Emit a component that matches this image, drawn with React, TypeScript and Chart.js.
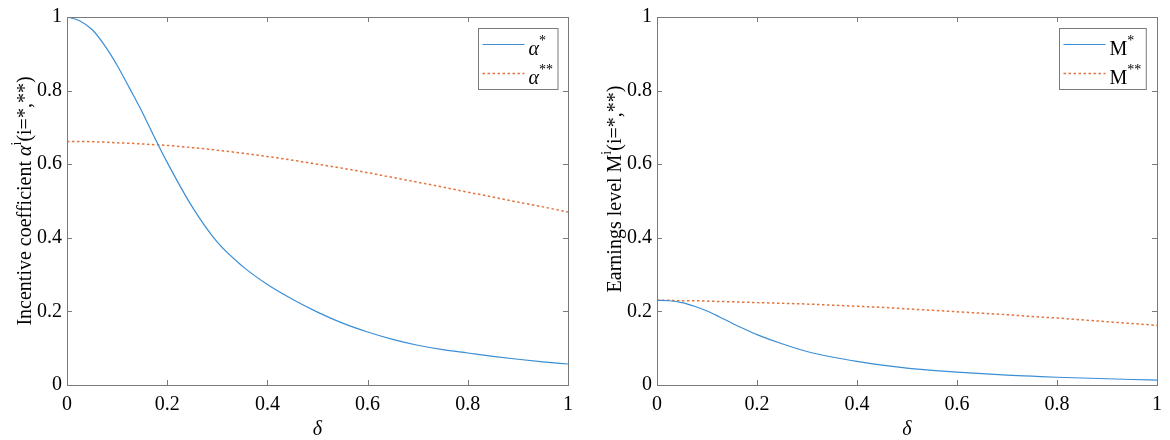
import React, { useEffect, useRef } from 'react'
import { Chart, registerables } from 'chart.js'
Chart.register(...registerables)

// values (denser sampling where the curves bend most)
const DELTA = [0, 0.025, 0.05, 0.075, 0.1, 0.125, 0.15, 0.175, 0.2, 0.25, 0.3, 0.35, 0.4, 0.45, 0.5, 0.55, 0.6, 0.65, 0.7, 0.75, 0.8, 0.85, 0.9, 0.95, 1]
const ALPHA_STAR = [1.0, 0.99, 0.966, 0.923, 0.869, 0.806, 0.742, 0.672, 0.605, 0.484, 0.388, 0.323, 0.273, 0.233, 0.198, 0.168, 0.144, 0.124, 0.108, 0.096, 0.087, 0.078, 0.07, 0.063, 0.057]
const ALPHA_2STAR = [0.662, 0.662, 0.661, 0.66, 0.658, 0.657, 0.655, 0.653, 0.651, 0.645, 0.638, 0.63, 0.621, 0.611, 0.6, 0.589, 0.577, 0.564, 0.551, 0.538, 0.524, 0.511, 0.497, 0.484, 0.47]
const M_STAR = [0.23, 0.229, 0.224, 0.214, 0.201, 0.185, 0.168, 0.152, 0.137, 0.112, 0.091, 0.076, 0.064, 0.054, 0.046, 0.04, 0.035, 0.031, 0.027, 0.024, 0.021, 0.019, 0.017, 0.015, 0.0135]
const M_2STAR = [0.23, 0.23, 0.229, 0.229, 0.228, 0.227, 0.226, 0.225, 0.224, 0.222, 0.22, 0.217, 0.214, 0.211, 0.207, 0.203, 0.199, 0.195, 0.191, 0.186, 0.182, 0.177, 0.172, 0.167, 0.162]
const TICKS = [0, 0.2, 0.4, 0.6, 0.8, 1]

const BLUE = '#3a8ed6'
const ORANGE = '#e4743e'
const AXIS = '#7a7a7a'
const SERIF = '"Liberation Serif", "Times New Roman", serif'
const FS = 20

type Seg = { t: string; italic?: boolean; sup?: boolean }

const fontFor = (s: Seg, size: number) =>
  `${s.italic ? 'italic ' : ''}${s.sup ? Math.round(size * 0.7) : size}px ${SERIF}`

function richWidth(ctx: CanvasRenderingContext2D, segs: Seg[], size: number) {
  let w = 0
  for (const s of segs) { ctx.font = fontFor(s, size); w += ctx.measureText(s.t).width }
  return w
}

function drawRich(ctx: CanvasRenderingContext2D, segs: Seg[], x: number, y: number, size: number) {
  let cx = x
  ctx.textAlign = 'left'
  ctx.textBaseline = 'alphabetic'
  for (const s of segs) {
    ctx.font = fontFor(s, size)
    ctx.fillText(s.t, cx, s.sup ? y - size * 0.5 : y)
    cx += ctx.measureText(s.t).width
  }
}

const framePlugin = {
  id: 'frame',
  afterDraw(chart: any, _args: any, opts: any) {
    const { ctx, chartArea: a, scales } = chart
    const x = scales.x, y = scales.y
    ctx.save()
    ctx.strokeStyle = AXIS
    ctx.lineWidth = 1
    ctx.strokeRect(Math.round(a.left) + 0.5, Math.round(a.top) + 0.5, Math.round(a.width), Math.round(a.height))
    ctx.beginPath()
    for (const v of TICKS) {
      const px = Math.round(x.getPixelForValue(v)) + 0.5
      ctx.moveTo(px, a.bottom); ctx.lineTo(px, a.bottom - 5)
      ctx.moveTo(px, a.top); ctx.lineTo(px, a.top + 5)
      const py = Math.round(y.getPixelForValue(v)) + 0.5
      ctx.moveTo(a.left, py); ctx.lineTo(a.left + 5, py)
      ctx.moveTo(a.right, py); ctx.lineTo(a.right - 5, py)
    }
    ctx.stroke()

    ctx.fillStyle = '#000'
    // x title
    ctx.font = `italic ${FS}px ${SERIF}`
    ctx.textAlign = 'center'
    ctx.textBaseline = 'alphabetic'
    ctx.fillText('δ', (a.left + a.right) / 2, 435)

    // y title
    const ySegs: Seg[] = opts.yTitle
    const tw = richWidth(ctx, ySegs, FS)
    ctx.save()
    ctx.translate(a.left - 36, (a.top + a.bottom) / 2 + (opts.yShift || 0))
    ctx.rotate(-Math.PI / 2)
    drawRich(ctx, ySegs, -tw / 2, 0, FS)
    ctx.restore()

    // legend
    const entries: Seg[][] = opts.legend
    const textW = Math.max(...entries.map(e => richWidth(ctx, e, FS)))
    const boxW = 50 + textW + 5
    const bx = Math.round(a.right - 11 - boxW) + 0.5
    const by = Math.round(a.top + 11) + 0.5
    ctx.fillStyle = '#fff'
    ctx.fillRect(bx, by, boxW, 61)
    ctx.strokeStyle = AXIS
    ctx.setLineDash([])
    ctx.strokeRect(bx, by, boxW, 61)
    entries.forEach((e, i) => {
      const ds = chart.data.datasets[i]
      const ly = by + 16 + i * 29
      ctx.strokeStyle = ds.borderColor
      ctx.lineWidth = ds.borderWidth
      ctx.setLineDash(ds.borderDash || [])
      ctx.beginPath()
      ctx.moveTo(bx + 4, ly); ctx.lineTo(bx + 46, ly)
      ctx.stroke()
      ctx.fillStyle = '#000'
      drawRich(ctx, e, bx + 50, ly + 10, FS)
    })
    ctx.restore()
  },
}

type PanelProps = {
  left: number
  yWidth: number
  padRight: number
  yShift: number
  star: number[]
  twoStar: number[]
  yTitle: Seg[]
  legend: Seg[][]
}

const Panel: React.FC<PanelProps> = ({ left, yWidth, padRight, yShift, star, twoStar, yTitle, legend }) => {
  const ref = useRef<HTMLCanvasElement | null>(null)
  useEffect(() => {
    if (!ref.current) return
    const ctx = ref.current.getContext('2d')!
    const tickFont = { family: SERIF, size: FS }
    const chart = new Chart(ctx, {
      type: 'line',
      data: {
        datasets: [
          { data: DELTA.map((d, i) => ({ x: d, y: star[i] })), borderColor: BLUE, borderWidth: 1.2, pointRadius: 0, cubicInterpolationMode: 'monotone' },
          { data: DELTA.map((d, i) => ({ x: d, y: twoStar[i] })), borderColor: ORANGE, borderWidth: 1.5, borderDash: [2.5, 2.5], pointRadius: 0, cubicInterpolationMode: 'monotone' },
        ],
      },
      options: {
        animation: false,
        responsive: true,
        maintainAspectRatio: false,
        layout: { padding: { left: 0, right: padRight, top: 16, bottom: 0 } },
        plugins: { legend: { display: false }, tooltip: { enabled: false }, frame: { yTitle, legend, yShift } } as any,
        scales: {
          x: {
            type: 'linear', min: 0, max: 1,
            afterBuildTicks: (s: any) => { s.ticks = TICKS.map(v => ({ value: v })) },
            afterFit: (s: any) => { s.height = 55 },
            grid: { display: false, drawTicks: false },
            border: { display: false },
            ticks: { font: tickFont, color: '#000', padding: 8, maxRotation: 0, callback: (v: any) => String(v) },
          },
          y: {
            type: 'linear', min: 0, max: 1,
            afterBuildTicks: (s: any) => { s.ticks = TICKS.map(v => ({ value: v })) },
            afterFit: (s: any) => { s.width = yWidth },
            grid: { display: false, drawTicks: false },
            border: { display: false },
            ticks: { font: tickFont, color: '#000', padding: 5, callback: (v: any) => String(v) },
          },
        },
      },
      plugins: [framePlugin],
    })
    return () => chart.destroy()
  }, [])
  return (
    <div style={{ position: 'absolute', left, top: 0, width: 585, height: 440 }}>
      <canvas ref={ref} />
    </div>
  )
}

export default function App() {
  return (
    <div style={{ position: 'absolute', left: 0, top: 0, width: 1170, height: 440, background: '#fff' }}>
      <Panel
        left={0} yWidth={67} padRight={17} yShift={0}
        star={ALPHA_STAR} twoStar={ALPHA_2STAR}
        yTitle={[{ t: 'Incentive coefficient ' }, { t: 'α', italic: true }, { t: 'i', sup: true }, { t: '(i=*,**)' }]}
        legend={[[{ t: 'α', italic: true }, { t: '*', sup: true }], [{ t: 'α', italic: true }, { t: '**', sup: true }]]}
      />
      <Panel
        left={585} yWidth={72} padRight={12} yShift={-12}
        star={M_STAR} twoStar={M_2STAR}
        yTitle={[{ t: 'Earnings level M' }, { t: 'i', sup: true }, { t: '(i=*,**)' }]}
        legend={[[{ t: 'M' }, { t: '*', sup: true }], [{ t: 'M' }, { t: '**', sup: true }]]}
      />
    </div>
  )
}
